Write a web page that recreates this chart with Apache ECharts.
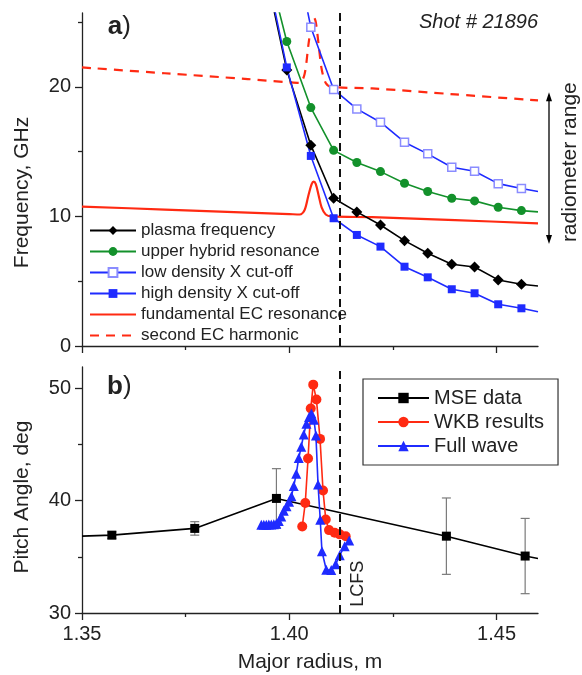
<!DOCTYPE html>
<html><head><meta charset="utf-8">
<script src="https://cdn.jsdelivr.net/npm/echarts@6/dist/echarts.min.js"></script>
<style>html,body{margin:0;padding:0;background:#fff}#c{width:582px;height:675px}</style>
</head><body><div id="c"></div>
<script>
// ---------- Panel a data ----------
const radiusA = [1.3937, 1.3994, 1.4052, 1.4107, 1.4163, 1.4220, 1.4278, 1.4334, 1.4392, 1.4447, 1.4504, 1.4560, 1.4600];
const plasmaFreq   = [29.8, 21.3, 15.5, 11.4, 10.35, 9.34, 8.13, 7.16, 6.31, 6.10, 5.10, 4.76, 4.63];
const upperHybrid  = [30.7, 23.5, 18.4, 15.1, 14.16, 13.46, 12.56, 11.92, 11.40, 11.20, 10.71, 10.45, 10.35];
const lowDensityX  = [null, 33.7, 24.6, 19.8, 18.3, 17.27, 15.73, 14.83, 13.80, 13.49, 12.53, 12.15, 11.92];
const highDensityX = [30.2, 21.5, 14.67, 9.86, 8.57, 7.67, 6.12, 5.30, 4.38, 4.07, 3.22, 2.91, 2.65];

const radiusEC = [1.35, 1.37, 1.39, 1.400, 1.4025, 1.4037, 1.4046, 1.4054, 1.4059, 1.4064, 1.4071, 1.4078, 1.4088, 1.4102, 1.42, 1.44, 1.46];
const fundamentalEC = [10.76, 10.53, 10.29, 10.18, 10.15, 10.5, 11.6, 12.5, 12.69, 12.5, 11.6, 10.7, 10.15, 10.0, 9.94, 9.71, 9.47];
const secondHarmonic = [21.5, 21.05, 20.6, 20.35, 20.3, 21.0, 23.2, 25.0, 25.38, 25.0, 23.2, 21.4, 20.3, 20.0, 19.88, 19.42, 18.95];

const lcfsRadius = 1.4122;
const radiometerRange = [7.95, 19.5];

// ---------- Panel b data ----------
const radiusMSE = [1.35, 1.3572, 1.3772, 1.3969, 1.4379, 1.4569, 1.46];
const pitchMSE  = [36.84, 36.93, 37.53, 40.2, 36.84, 35.07, 34.85];
const errMSE    = [null, 0.3, 0.6, 2.65, 3.4, 3.35, null];

const radiusWKB = [1.40313, 1.40386, 1.40453, 1.40518, 1.40578, 1.40655, 1.40742, 1.40814, 1.40880, 1.40959, 1.41096, 1.41217, 1.41361];
const pitchWKB  = [37.7, 39.8, 43.75, 48.2, 50.33, 49.0, 45.5, 40.9, 38.33, 37.38, 37.14, 37.0, 36.84];

const radiusFW = [1.39325, 1.39386, 1.39446, 1.39506, 1.39566, 1.39627, 1.39687, 1.39747, 1.39807, 1.39867, 1.39933, 1.39995, 1.40053, 1.40108, 1.40169, 1.40229, 1.40289, 1.40349, 1.40414, 1.40477, 1.40535, 1.40595, 1.40643, 1.40694, 1.40747, 1.40788, 1.40892, 1.41012, 1.41120, 1.41217, 1.41337, 1.41446];
const pitchFW  = [37.85, 37.85, 37.85, 37.87, 37.88, 37.9, 37.95, 38.2, 38.6, 39.1, 39.5, 39.9, 40.4, 41.3, 42.4, 43.8, 44.8, 45.9, 46.85, 47.45, 47.75, 47.2, 45.8, 41.45, 38.3, 35.5, 33.85, 33.82, 34.35, 35.15, 35.95, 36.45];

// ---------- axis ticks ----------
const xMajor = [1.35, 1.40, 1.45], xMinor = [1.375, 1.425];
const yMajorA = [0, 10, 20], yMinorA = [5, 15, 25];
const yMajorB = [30, 40, 50], yMinorB = [35, 45];

const FONT = 'Liberation Sans, Arial, sans-serif';
const AX = '#222';

function pairs(xs, ys, lastEdge, firstOff) {
  const out = [];
  xs.forEach((x, i) => {
    if (ys[i] === null) { out.push([x, null]); return; }
    const edge = (lastEdge && i === xs.length - 1) || (firstOff && i === 0);
    out.push(edge ? { value: [x, ys[i]], symbol: 'none' } : [x, ys[i]]);
  });
  return out;
}

const chart = echarts.init(document.getElementById('c'), null, { renderer: 'canvas' });

function xAx(grid, major, labels, name) {
  return {
    type: 'value', gridIndex: grid, min: 1.35, max: 1.46, position: 'bottom',
    axisLine: { show: major, onZero: false, lineStyle: { color: AX, width: 1.3 } },
    axisTick: { show: true, inside: false, length: major ? 7 : 4, customValues: major ? xMajor : xMinor, lineStyle: { color: AX, width: 1.3 } },
    axisLabel: { show: labels, customValues: xMajor, formatter: v => v.toFixed(2), fontSize: 20, color: AX, fontFamily: FONT, margin: 11 },
    splitLine: { show: false },
    name: name || '', nameLocation: 'middle', nameGap: 39,
    nameTextStyle: { fontSize: 21, color: AX, fontFamily: FONT }
  };
}
function yAx(grid, min, max, major, majorVals, minorVals, name, pad) {
  return {
    type: 'value', gridIndex: grid, min: min, max: max, position: 'left',
    axisLine: { show: major, onZero: false, lineStyle: { color: AX, width: 1.3 } },
    axisTick: { show: true, inside: false, length: major ? 7 : 4, customValues: major ? majorVals : minorVals, lineStyle: { color: AX, width: 1.3 } },
    axisLabel: { show: major, customValues: majorVals, fontSize: 20, color: AX, fontFamily: FONT, margin: 11 },
    splitLine: { show: false },
    name: name || '', nameLocation: 'middle', nameGap: 49,
    nameTextStyle: { fontSize: 21, color: AX, fontFamily: FONT, padding: pad || 0 }
  };
}

const lcfsMark = {
  silent: true, symbol: 'none', label: { show: false }, precision: 6,
  lineStyle: { color: '#111', width: 2, type: [8, 5] },
  data: [{ xAxis: lcfsRadius }]
};

const BLUE = '#1f2bff', GREEN = '#13912b', RED = '#ff2a12';
const noSymbol = { opacity: 0 };

const option = {
  animation: false,
  backgroundColor: '#fff',
  textStyle: { fontFamily: FONT },
  grid: [
    { left: 82, right: 44, top: 13, height: 333 },
    { left: 82, right: 44, top: 367, height: 246 }
  ],
  xAxis: [xAx(0, true, false), xAx(0, false, false), xAx(1, true, true, 'Major radius, m'), xAx(1, false, false)],
  yAxis: [
    yAx(0, 0, 25.7, true, yMajorA, yMinorA, 'Frequency, GHz', [0, 26, 0, 0]),
    yAx(0, 0, 25.7, false, yMajorA, yMinorA),
    yAx(1, 30, 51.9, true, yMajorB, yMinorB, 'Pitch Angle, deg', [0, 14, 0, 0]),
    yAx(1, 30, 51.9, false, yMajorB, yMinorB)
  ],
  legend: [
    {
      data: ['plasma frequency', 'upper hybrid resonance', 'low density X cut-off', 'high density X cut-off',
        { name: 'fundamental EC resonance', itemStyle: noSymbol },
        { name: 'second EC harmonic', itemStyle: noSymbol }],
      orient: 'vertical', left: 89, top: 222, padding: 0, itemGap: 4, itemWidth: 46, itemHeight: 11,
      textStyle: { fontSize: 17, color: AX, fontFamily: FONT }, selectedMode: false
    },
    {
      data: ['MSE data', 'WKB results', 'Full wave'],
      orient: 'vertical', left: 363, top: 379, padding: [9, 14, 9, 14], itemGap: 4, itemWidth: 51, itemHeight: 13,
      borderColor: '#333', borderWidth: 1.2, borderRadius: 0,
      textStyle: { fontSize: 20, color: AX, fontFamily: FONT }, selectedMode: false
    }
  ],
  series: [
    {
      name: 'fundamental EC resonance', type: 'line', xAxisIndex: 0, yAxisIndex: 0,
      data: pairs(radiusEC, fundamentalEC), symbol: 'none', smooth: 0.3,
      lineStyle: { color: RED, width: 2.2 }, itemStyle: { color: RED }, z: 2
    },
    {
      name: 'second EC harmonic', type: 'line', xAxisIndex: 0, yAxisIndex: 0,
      data: pairs(radiusEC, secondHarmonic), symbol: 'none', smooth: 0.3,
      lineStyle: { color: RED, width: 2.2, type: [9, 7] }, itemStyle: { color: RED }, z: 2
    },
    {
      name: 'plasma frequency', type: 'line', xAxisIndex: 0, yAxisIndex: 0,
      data: pairs(radiusA, plasmaFreq, true, true), symbol: 'diamond', symbolSize: 11,
      lineStyle: { color: '#000', width: 1.6 }, itemStyle: { color: '#000' },
      markLine: lcfsMark, z: 3
    },
    {
      name: 'upper hybrid resonance', type: 'line', xAxisIndex: 0, yAxisIndex: 0,
      data: pairs(radiusA, upperHybrid, true, true), symbol: 'circle', symbolSize: 9,
      lineStyle: { color: GREEN, width: 1.6 }, itemStyle: { color: GREEN }, z: 3
    },
    {
      name: 'low density X cut-off', type: 'line', xAxisIndex: 0, yAxisIndex: 0,
      data: pairs(radiusA, lowDensityX, true, false), symbol: 'rect', symbolSize: 8,
      lineStyle: { color: BLUE, width: 1.6 }, itemStyle: { color: '#fff', borderColor: '#8a8cff', borderWidth: 1.5 }, z: 3
    },
    {
      name: 'high density X cut-off', type: 'line', xAxisIndex: 0, yAxisIndex: 0,
      data: pairs(radiusA, highDensityX, true, true), symbol: 'rect', symbolSize: 8,
      lineStyle: { color: BLUE, width: 1.6 }, itemStyle: { color: BLUE }, z: 3
    },
    // Panel b
    {
      name: 'MSE error', type: 'custom', xAxisIndex: 2, yAxisIndex: 2,
      data: radiusMSE.map((r, i) => errMSE[i] === null ? null : [r, pitchMSE[i] - errMSE[i], pitchMSE[i] + errMSE[i]]).filter(d => d),
      encode: { x: 0, y: [1, 2] }, silent: true, z: 1,
      renderItem: function (params, api) {
        const x = api.value(0);
        const top = api.coord([x, api.value(2)]);
        const bot = api.coord([x, api.value(1)]);
        const w = 4.5;
        const st = { stroke: '#7a7a7a', lineWidth: 1.2 };
        return {
          type: 'group', children: [
            { type: 'line', shape: { x1: top[0], y1: top[1], x2: bot[0], y2: bot[1] }, style: st },
            { type: 'line', shape: { x1: top[0] - w, y1: top[1], x2: top[0] + w, y2: top[1] }, style: st },
            { type: 'line', shape: { x1: bot[0] - w, y1: bot[1], x2: bot[0] + w, y2: bot[1] }, style: st }
          ]
        };
      }
    },
    {
      name: 'MSE data', type: 'line', xAxisIndex: 2, yAxisIndex: 2,
      data: pairs(radiusMSE, pitchMSE, true, true), symbol: 'rect', symbolSize: 9,
      lineStyle: { color: '#000', width: 1.6 }, itemStyle: { color: '#000' },
      markLine: lcfsMark, z: 2
    },
    {
      name: 'WKB results', type: 'line', xAxisIndex: 2, yAxisIndex: 2,
      data: pairs(radiusWKB, pitchWKB), symbol: 'circle', symbolSize: 10,
      lineStyle: { color: RED, width: 1.6 }, itemStyle: { color: RED }, z: 3
    },
    {
      name: 'Full wave', type: 'line', xAxisIndex: 2, yAxisIndex: 2,
      data: pairs(radiusFW, pitchFW), symbol: 'triangle', symbolSize: 10,
      lineStyle: { color: BLUE, width: 1.6 }, itemStyle: { color: BLUE }, z: 4
    }
  ]
};
chart.setOption(option);

// annotations positioned through the axes
const pTop = chart.convertToPixel({ gridIndex: 0 }, [1.46, radiometerRange[1]]);
const pBot = chart.convertToPixel({ gridIndex: 0 }, [1.46, radiometerRange[0]]);
const ax = pTop[0] + 11;
const lcfsLbl = chart.convertToPixel({ gridIndex: 1 }, [lcfsRadius, 32.6]);
const aLbl = chart.convertToPixel({ gridIndex: 0 }, [1.359, 24.6]);
const bLbl = chart.convertToPixel({ gridIndex: 1 }, [1.359, 50.1]);
const shotPos = chart.convertToPixel({ gridIndex: 0 }, [1.46, 25.0]);
const midY = (pTop[1] + pBot[1]) / 2;

chart.setOption({
  graphic: [
    { type: 'line', shape: { x1: ax, y1: pTop[1] + 4, x2: ax, y2: pBot[1] - 4 }, style: { stroke: '#000', lineWidth: 1.3 } },
    { type: 'polygon', shape: { points: [[ax, pTop[1] - 1], [ax - 3, pTop[1] + 8], [ax + 3, pTop[1] + 8]] }, style: { fill: '#000' } },
    { type: 'polygon', shape: { points: [[ax, pBot[1] + 1], [ax - 3, pBot[1] - 8], [ax + 3, pBot[1] - 8]] }, style: { fill: '#000' } },
    { type: 'text', x: ax + 21, y: midY - 6, rotation: Math.PI / 2,
      style: { text: 'radiometer range', font: '21px ' + FONT, fill: AX, align: 'center', verticalAlign: 'middle' } },
    { type: 'text', x: lcfsLbl[0] + 18, y: lcfsLbl[1], rotation: Math.PI / 2,
      style: { text: 'LCFS', font: '18px ' + FONT, fill: AX, align: 'center', verticalAlign: 'middle' } },
    { type: 'text', x: aLbl[0], y: aLbl[1],
      style: { text: '{b|a})', rich: { b: { fontWeight: 'bold', fontSize: 26, fontFamily: FONT, fill: AX } }, font: '26px ' + FONT, fill: AX, align: 'center', verticalAlign: 'middle' } },
    { type: 'text', x: bLbl[0], y: bLbl[1],
      style: { text: '{b|b})', rich: { b: { fontWeight: 'bold', fontSize: 26, fontFamily: FONT, fill: AX } }, font: '26px ' + FONT, fill: AX, align: 'center', verticalAlign: 'middle' } },
    { type: 'text', x: shotPos[0], y: shotPos[1],
      style: { text: 'Shot # 21896', font: 'italic 20px ' + FONT, fill: AX, align: 'right', verticalAlign: 'middle' } }
  ]
});
</script></body></html>
